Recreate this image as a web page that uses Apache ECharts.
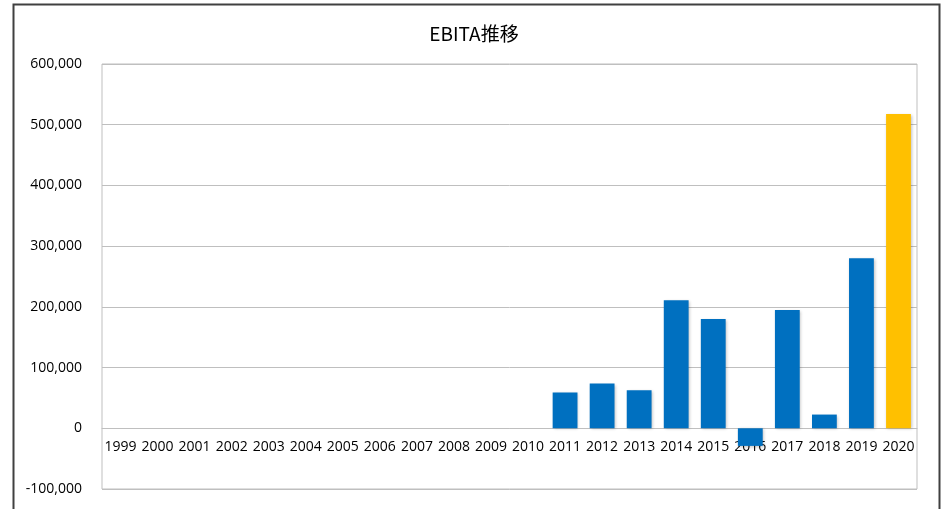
<!DOCTYPE html>
<html>
<head>
<meta charset="utf-8">
<script src="https://cdn.jsdelivr.net/npm/echarts@6/dist/echarts.min.js"></script>
<style>
html,body{margin:0;padding:0;background:#fff;}
#c{width:948px;height:509px;}
</style>
</head>
<body>
<div id="c"></div>
<script>
const titleText = "EBITA推移";
const years = ["1999","2000","2001","2002","2003","2004","2005","2006","2007","2008","2009","2010","2011","2012","2013","2014","2015","2016","2017","2018","2019","2020"];
const ebita = [null,null,null,null,null,null,null,null,null,null,null,null,59000,73600,62600,211000,180000,-29000,195000,22600,280000,517500];
const highlightYear = "2020";
const yMin = -100000, yMax = 600000, yStep = 100000;

const chart = echarts.init(document.getElementById('c'), null, {renderer:'canvas'});
const font = "'Open Sans', 'Noto Sans', sans-serif";
const gridTop = 64, gridBottom = 20, H = 509;
// place the category axis on the zero line
const plotH = H - gridTop - gridBottom;
const zeroOffset = -plotH * (0 - yMin) / (yMax - yMin);
chart.setOption({
  backgroundColor:'#fff',
  animation:false,
  title:{
    text:titleText, left:'center', top:19,
    textStyle:{fontFamily:"'Noto Sans CJK JP', sans-serif", fontSize:19, fontWeight:'normal', color:'#000'}
  },
  graphic:[{
    type:'rect', left:11, top:2, silent:true,
    shape:{x:0,y:0,width:926,height:540},
    style:{fill:'none', stroke:'#404040', lineWidth:2}
  }],
  grid:{left:102, right:31, top:gridTop, bottom:gridBottom, show:true, borderColor:'#bfbfbf', borderWidth:1,
        containLabel:false, outerBoundsMode:'none'},
  xAxis:{
    type:'category', data:years, offset:zeroOffset,
    axisLine:{show:true, onZero:false, lineStyle:{color:'#bfbfbf'}},
    axisTick:{show:false},
    axisLabel:{color:'#000', fontSize:14, fontFamily:font, margin:12, interval:0}
  },
  yAxis:{
    type:'value', min:yMin, max:yMax, interval:yStep,
    axisLine:{show:false}, axisTick:{show:false},
    splitLine:{lineStyle:{color:'#bfbfbf'}},
    axisLabel:{color:'#000', fontSize:14, fontFamily:font, margin:20,
      formatter:v=>v.toLocaleString('en-US')}
  },
  series:[{
    type:'bar',
    barCategoryGap:'33%',
    data:ebita.map((v,i)=>({value:v, itemStyle:{color: years[i]===highlightYear ? '#FFC000' : '#0070C0'}})),
    itemStyle:{shadowColor:'rgba(0,0,0,0.25)', shadowBlur:3, shadowOffsetX:1, shadowOffsetY:1}
  }]
});
</script>
</body>
</html>
